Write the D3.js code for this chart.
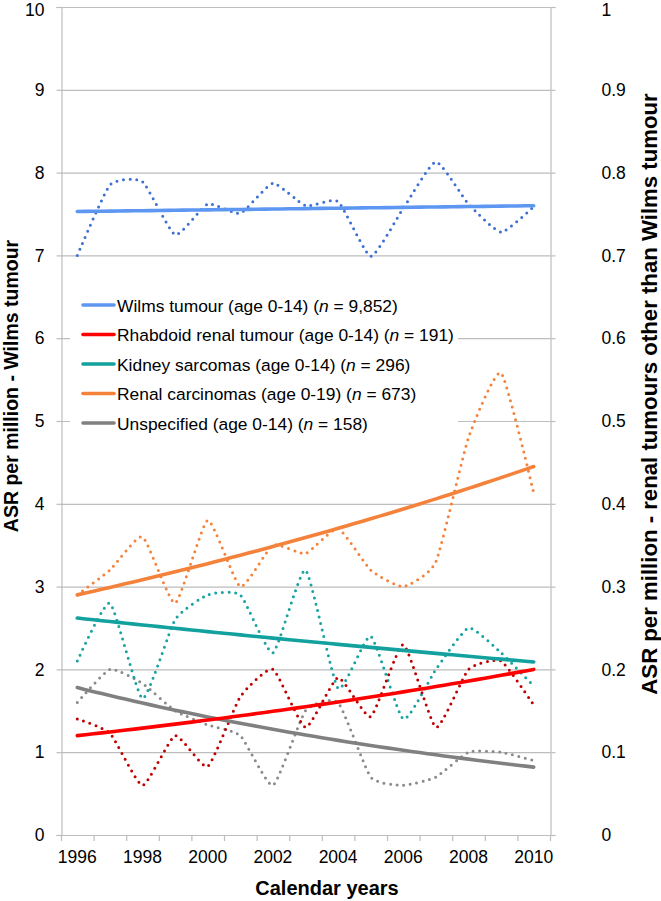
<!DOCTYPE html>
<html><head><meta charset="utf-8">
<script src="https://cdn.jsdelivr.net/npm/d3@7"></script>
<style>
html,body{margin:0;padding:0;background:#fff;}
text{font-family:"Liberation Sans",Arial,sans-serif;fill:#000;}
</style></head>
<body><svg id="c" width="661" height="901"></svg>
<script>
const years = [1996,1997,1998,1999,2000,2001,2002,2003,2004,2005,2006,2007,2008,2009,2010];
const yearLabels = [1996,1998,2000,2002,2004,2006,2008,2010];
const leftTicks = [0,1,2,3,4,5,6,7,8,9,10];
const rightTicks = [0,0.1,0.2,0.3,0.4,0.5,0.6,0.7,0.8,0.9,1];

// Wilms tumour (left axis)
const wilms = [7.0,7.85,7.89,7.25,7.62,7.51,7.87,7.6,7.65,6.99,7.57,8.13,7.62,7.28,7.59];
// Right axis series
const rhabdoid = [0.14,0.123,0.06,0.12,0.083,0.167,0.2,0.13,0.19,0.143,0.23,0.13,0.2,0.21,0.157];
const sarcoma = [0.21,0.28,0.165,0.26,0.29,0.29,0.22,0.32,0.177,0.24,0.14,0.2,0.25,0.22,0.18];
const carcinoma = [0.29,0.32,0.36,0.28,0.38,0.30,0.35,0.34,0.37,0.32,0.30,0.33,0.48,0.558,0.413];
const unspecified = [0.16,0.2,0.183,0.15,0.133,0.12,0.06,0.15,0.16,0.07,0.06,0.07,0.1,0.1,0.09];

// Trend line end values
const trendStart = [7.53,0.12,0.262,0.29,0.178];
const trendEnd = [7.60,0.20,0.209,0.445,0.082];
const trendType = ["linear","exp","exp","exp","exp"];

const legendLabels = [
  ["Wilms tumour (age 0-14) (","9,852",")"],
  ["Rhabdoid renal tumour (age 0-14) (","191",")"],
  ["Kidney sarcomas (age 0-14) (","296",")"],
  ["Renal carcinomas (age 0-19) (","673",")"],
  ["Unspecified (age 0-14) (","158",")"]
];
const trendColors = ["#5e97f2","#ff0000","#12a19e","#f5823a","#808080"];
const dotColors = ["#3d6fd4","#c00000","#17a3a1","#f5823a","#8a8a8a"];

const svg = d3.select("#c");
const L=61, R=550, T=7, B=835;
const x = d3.scaleBand().domain(years).range([L,R]).padding(0);
const cx = d => x(d)+x.bandwidth()/2;
const yL = d3.scaleLinear().domain([0,10]).range([B,T]);
const yR = d3.scaleLinear().domain([0,1]).range([B,T]);
const gridColor="#bdbdbd";

svg.append("g").selectAll("line").data(leftTicks.slice(1)).join("line")
  .attr("x1",L).attr("x2",R).attr("y1",d=>yL(d)+0.5).attr("y2",d=>yL(d)+0.5)
  .attr("stroke",gridColor).attr("stroke-width",1.2);

const gl = svg.append("g").attr("transform",`translate(${L+0.5},0)`)
  .call(d3.axisLeft(yL).tickValues(leftTicks).tickSize(5).tickFormat(d3.format("d")));
const gr = svg.append("g").attr("transform",`translate(${R+0.5},0)`)
  .call(d3.axisRight(yR).tickValues(rightTicks).tickSize(5).tickFormat(d=>d===0?"0":d===1?"1":d3.format(".1f")(d)));
[gl,gr].forEach(g=>{
  g.select(".domain").attr("stroke",gridColor).attr("stroke-width",1.2);
  g.selectAll(".tick line").attr("stroke",gridColor).attr("stroke-width",1.2);
  g.selectAll(".tick text").attr("font-size",17.5).attr("font-family","Liberation Sans, Arial").attr("fill","#000");
});
gr.selectAll(".tick text").attr("text-anchor","start").attr("x",51);
gl.selectAll(".tick text").attr("x",-17);
gl.selectAll(".tick").filter(d=>d===10).select("text").attr("dy","0.48em");
gr.selectAll(".tick").filter(d=>d===1).select("text").attr("dy","0.48em");

const bounds = years.map(d=>x(d)).concat([R]);
svg.append("line").attr("x1",L).attr("x2",R).attr("y1",B+0.5).attr("y2",B+0.5).attr("stroke",gridColor).attr("stroke-width",1.2);
svg.append("g").selectAll("line").data(bounds).join("line")
  .attr("x1",d=>d+0.5).attr("x2",d=>d+0.5).attr("y1",B).attr("y2",B+6)
  .attr("stroke",gridColor).attr("stroke-width",1.2);
svg.append("g").selectAll("text").data(yearLabels).join("text")
  .attr("x",d=>cx(d)).attr("y",863).attr("text-anchor","middle").attr("font-size",17.5).text(d=>d);

svg.append("text").attr("transform","translate(327,895)").attr("text-anchor","middle")
  .attr("font-size",20).attr("font-weight","bold").text("Calendar years");
svg.append("text").attr("transform","translate(17.5,386) rotate(-90)").attr("text-anchor","middle")
  .attr("font-size",19.5).attr("font-weight","bold").text("ASR per million - Wilms tumour");
svg.append("text").attr("transform","translate(657,394) rotate(-90)").attr("text-anchor","middle")
  .attr("font-size",22.2).attr("font-weight","bold").text("ASR per million - renal tumours other than Wilms tumour");

svg.append("rect").attr("x",70).attr("y",289).attr("width",388).attr("height",150).attr("fill","#fff");

const series = [
  {vals:wilms, y:yL},
  {vals:rhabdoid, y:yR},
  {vals:sarcoma, y:yR},
  {vals:carcinoma, y:yR},
  {vals:unspecified, y:yR}
];
const n = years.length;
const dotLine = d3.line().curve(d3.curveCardinal.tension(0.5));
const trendLine = d3.line();

[4,3,2,1,0].forEach(i=>{
  const s = series[i];
  svg.append("path").datum(years.map((yr,k)=>[cx(yr), s.y(s.vals[k])]))
    .attr("d",dotLine).attr("fill","none").attr("stroke",dotColors[i])
    .attr("stroke-width",3).attr("stroke-linecap","round").attr("stroke-dasharray","0 6.6");
});
[4,3,2,1,0].forEach(i=>{
  const s = series[i];
  const a = trendStart[i], b = trendEnd[i];
  const val = t => trendType[i]==="linear" ? a+(b-a)*t : a*Math.pow(b/a,t);
  const pts=[];
  for(let k=0;k<n-1;k++){
    for(let j=0;j<4;j++){
      const f=j/4; const xv=cx(years[k])+(cx(years[k+1])-cx(years[k]))*f;
      pts.push([xv,s.y(val((k+f)/(n-1)))]);
    }
  }
  pts.push([cx(years[n-1]), s.y(val(1))]);
  svg.append("path").datum(pts).attr("d",trendLine).attr("fill","none")
    .attr("stroke",trendColors[i]).attr("stroke-width",3.6).attr("stroke-linecap","round");
});

const lg = svg.append("g");
legendLabels.forEach((lab,i)=>{
  const yy = 305 + i*29.5;
  lg.append("line").attr("x1",83).attr("x2",114).attr("y1",yy).attr("y2",yy)
    .attr("stroke",trendColors[i]).attr("stroke-width",3.6).attr("stroke-linecap","round");
  const t = lg.append("text").attr("x",117).attr("y",yy+6.5).attr("font-size",17.4);
  t.append("tspan").text(lab[0]);
  t.append("tspan").attr("font-style","italic").text("n");
  t.append("tspan").text(" = "+lab[1]+lab[2]);
});
</script></body></html>
